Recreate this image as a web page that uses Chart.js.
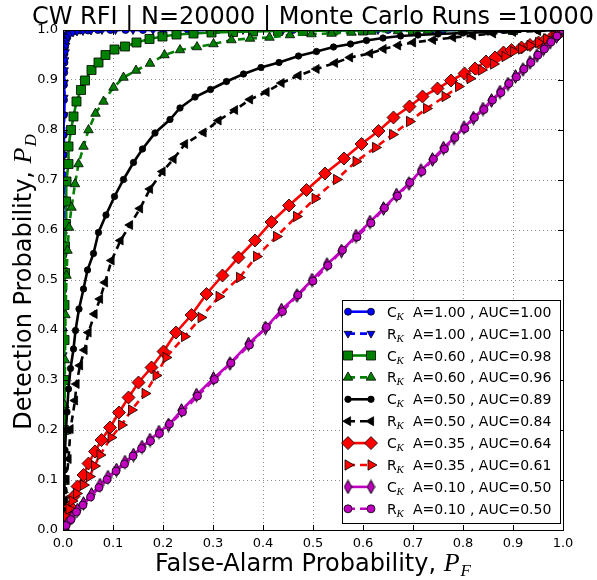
<!DOCTYPE html>
<html><head><meta charset="utf-8">
<script src="https://cdn.jsdelivr.net/npm/chart.js@4.4.0/dist/chart.umd.min.js"></script>
<style>html,body{margin:0;padding:0;background:#fff;}#wrap{width:597px;height:580px;position:relative;}</style>
</head><body><div id="wrap"><canvas id="c" width="597" height="580"></canvas></div>
<script>
// ---------- data ----------
const titleText = "CW RFI | N=20000 | Monte Carlo Runs =10000";
const xLabelText = "False-Alarm Probability, ";
const yLabelText = "Detection Probability, ";
const tickLabels = ["0.0","0.1","0.2","0.3","0.4","0.5","0.6","0.7","0.8","0.9","1.0"];
const seriesKind = ["C","R","C","R","C","R","C","R","C","R"];
const seriesA    = ["1.00","1.00","0.60","0.60","0.50","0.50","0.35","0.35","0.10","0.10"];
const seriesAUC  = ["1.00","1.00","0.98","0.96","0.89","0.84","0.64","0.61","0.50","0.50"];

const cA100 = [[0,0],[0,0.10],[0,0.20],[0,0.30],[0.0005,0.40],[0.0005,0.48],[0.001,0.55],[0.001,0.61],[0.001,0.66],[0.001,0.71],[0.0015,0.75],[0.0015,0.79],[0.002,0.83],[0.002,0.86],[0.002,0.89],[0.0025,0.915],[0.003,0.935],[0.003,0.952],[0.004,0.966],[0.005,0.977],[0.006,0.985],[0.008,0.991],[0.011,0.995],[0.016,0.997],[0.024,0.998],[0.035,0.999],[0.05,0.999],[0.07,1.0],[0.095,1.0],[0.125,1.0],[0.16,1.0],[0.2,1.0],[0.25,1.0],[0.31,1.0],[0.38,1.0],[0.46,1.0],[0.55,1.0],[0.65,1.0],[0.76,1.0],[0.88,1.0],[1,1]];
const rA100 = [[0,0],[0,0.12],[0,0.24],[0.0005,0.35],[0.0005,0.44],[0.001,0.52],[0.001,0.59],[0.001,0.65],[0.0015,0.70],[0.0015,0.75],[0.002,0.79],[0.002,0.83],[0.0025,0.865],[0.003,0.895],[0.003,0.92],[0.004,0.94],[0.005,0.956],[0.006,0.969],[0.008,0.979],[0.010,0.987],[0.014,0.992],[0.02,0.995],[0.028,0.997],[0.04,0.998],[0.056,0.999],[0.078,1.0],[0.105,1.0],[0.14,1.0],[0.18,1.0],[0.23,1.0],[0.29,1.0],[0.36,1.0],[0.44,1.0],[0.53,1.0],[0.63,1.0],[0.74,1.0],[0.86,1.0],[1,1]];
const cA060 = [[0,0],[0.001,0.10],[0.002,0.20],[0.002,0.30],[0.003,0.38],[0.003,0.45],[0.004,0.514],[0.004,0.567],[0.006,0.612],[0.006,0.657],[0.007,0.697],[0.011,0.732],[0.011,0.767],[0.016,0.800],[0.021,0.827],[0.027,0.857],[0.036,0.880],[0.044,0.899],[0.057,0.920],[0.071,0.935],[0.085,0.950],[0.103,0.961],[0.124,0.967],[0.147,0.975],[0.173,0.982],[0.199,0.987],[0.227,0.991],[0.261,0.993],[0.297,0.995],[0.34,0.996],[0.38,0.997],[0.43,0.998],[0.48,0.998],[0.54,0.999],[0.60,0.999],[0.70,1.0],[0.80,1.0],[0.90,1.0],[1,1]];
const rA060 = [[0,0],[0.001,0.08],[0.002,0.16],[0.003,0.25],[0.004,0.34],[0.005,0.43],[0.007,0.509],[0.009,0.559],[0.012,0.605],[0.017,0.645],[0.024,0.692],[0.031,0.732],[0.041,0.767],[0.051,0.800],[0.065,0.833],[0.081,0.857],[0.101,0.885],[0.121,0.905],[0.146,0.919],[0.174,0.933],[0.203,0.950],[0.234,0.960],[0.268,0.966],[0.301,0.972],[0.337,0.980],[0.374,0.983],[0.413,0.985],[0.454,0.990],[0.497,0.992],[0.537,0.993],[0.577,0.995],[0.617,0.997],[0.67,0.998],[0.73,0.999],[0.8,1.0],[0.9,1.0],[1,1]];
const cA050 = [[0,0],[0.001,0.04],[0.002,0.08],[0.003,0.12],[0.004,0.16],[0.006,0.20],[0.008,0.236],[0.011,0.282],[0.015,0.323],[0.021,0.362],[0.025,0.399],[0.032,0.442],[0.041,0.482],[0.049,0.520],[0.061,0.553],[0.071,0.595],[0.086,0.630],[0.103,0.667],[0.121,0.701],[0.141,0.735],[0.159,0.762],[0.184,0.794],[0.214,0.821],[0.234,0.844],[0.264,0.866],[0.295,0.881],[0.327,0.897],[0.361,0.912],[0.396,0.925],[0.432,0.935],[0.471,0.948],[0.507,0.957],[0.541,0.966],[0.575,0.972],[0.607,0.979],[0.640,0.984],[0.675,0.988],[0.71,0.990],[0.75,0.992],[0.80,0.994],[0.85,0.996],[0.90,0.998],[0.95,0.999],[1,1]];
const rA050 = [[0,0],[0.002,0.03],[0.004,0.06],[0.007,0.10],[0.011,0.142],[0.015,0.202],[0.024,0.259],[0.027,0.292],[0.034,0.329],[0.043,0.360],[0.051,0.395],[0.063,0.432],[0.074,0.462],[0.084,0.495],[0.097,0.539],[0.115,0.579],[0.134,0.610],[0.154,0.643],[0.174,0.682],[0.199,0.717],[0.221,0.742],[0.244,0.772],[0.281,0.795],[0.311,0.819],[0.344,0.840],[0.374,0.861],[0.407,0.876],[0.437,0.894],[0.471,0.909],[0.507,0.922],[0.544,0.934],[0.574,0.945],[0.614,0.953],[0.641,0.962],[0.67,0.969],[0.70,0.975],[0.74,0.980],[0.78,0.985],[0.82,0.989],[0.86,0.993],[0.90,0.996],[0.95,0.998],[1,1]];
const cA035 = [[0,0],[0.004,0.015],[0.009,0.030],[0.014,0.047],[0.021,0.067],[0.029,0.087],[0.041,0.110],[0.051,0.133],[0.064,0.157],[0.077,0.180],[0.094,0.205],[0.112,0.235],[0.131,0.265],[0.151,0.295],[0.177,0.325],[0.201,0.357],[0.226,0.395],[0.257,0.430],[0.287,0.472],[0.319,0.509],[0.351,0.545],[0.384,0.579],[0.417,0.616],[0.452,0.649],[0.487,0.680],[0.524,0.713],[0.562,0.743],[0.597,0.772],[0.631,0.798],[0.661,0.825],[0.693,0.847],[0.719,0.867],[0.749,0.883],[0.776,0.899],[0.803,0.913],[0.824,0.923],[0.846,0.937],[0.864,0.945],[0.881,0.955],[0.897,0.960],[0.917,0.965],[0.934,0.970],[0.951,0.975],[0.964,0.980],[0.977,0.985],[0.990,0.991],[1,1]];
const rA035 = [[0,0],[0.003,0.012],[0.007,0.027],[0.012,0.042],[0.018,0.058],[0.027,0.073],[0.041,0.090],[0.053,0.107],[0.063,0.128],[0.074,0.150],[0.096,0.185],[0.117,0.210],[0.137,0.240],[0.164,0.273],[0.186,0.309],[0.206,0.345],[0.243,0.387],[0.276,0.425],[0.312,0.467],[0.353,0.505],[0.387,0.547],[0.427,0.587],[0.467,0.627],[0.504,0.663],[0.547,0.701],[0.586,0.737],[0.625,0.765],[0.659,0.791],[0.693,0.817],[0.727,0.843],[0.764,0.867],[0.791,0.887],[0.814,0.903],[0.837,0.920],[0.861,0.932],[0.884,0.947],[0.901,0.957],[0.917,0.962],[0.934,0.969],[0.951,0.975],[0.967,0.982],[0.984,0.988],[1,1]];
const cA010 = [[0,0],[0.008,0.012],[0.018,0.025],[0.029,0.040],[0.041,0.053],[0.057,0.071],[0.074,0.090],[0.090,0.106],[0.107,0.120],[0.124,0.136],[0.141,0.150],[0.158,0.166],[0.174,0.180],[0.192,0.196],[0.211,0.210],[0.237,0.239],[0.267,0.270],[0.301,0.303],[0.334,0.333],[0.371,0.372],[0.405,0.404],[0.437,0.440],[0.468,0.469],[0.498,0.500],[0.528,0.531],[0.557,0.558],[0.586,0.588],[0.614,0.616],[0.641,0.643],[0.667,0.670],[0.692,0.693],[0.716,0.719],[0.739,0.741],[0.761,0.764],[0.782,0.784],[0.802,0.805],[0.821,0.824],[0.840,0.842],[0.857,0.859],[0.874,0.876],[0.890,0.892],[0.905,0.907],[0.920,0.921],[0.934,0.935],[0.948,0.949],[0.961,0.962],[0.974,0.975],[0.987,0.987],[1,1]];
const rA010 = [[0,0],[0.006,0.009],[0.016,0.021],[0.027,0.036],[0.040,0.050],[0.055,0.066],[0.072,0.085],[0.088,0.101],[0.106,0.118],[0.123,0.132],[0.140,0.148],[0.157,0.163],[0.175,0.178],[0.193,0.193],[0.213,0.212],[0.239,0.236],[0.269,0.268],[0.303,0.301],[0.336,0.334],[0.373,0.370],[0.407,0.406],[0.439,0.437],[0.470,0.470],[0.500,0.498],[0.530,0.529],[0.559,0.560],[0.588,0.586],[0.616,0.614],[0.643,0.644],[0.669,0.668],[0.694,0.695],[0.718,0.717],[0.741,0.742],[0.763,0.762],[0.784,0.785],[0.804,0.803],[0.823,0.825],[0.842,0.841],[0.859,0.860],[0.876,0.875],[0.892,0.893],[0.907,0.906],[0.922,0.922],[0.936,0.935],[0.950,0.950],[0.963,0.962],[0.976,0.976],[0.988,0.988],[1,1]];

const seriesPoints = [cA100, rA100, cA060, rA060, cA050, rA050, cA035, rA035, cA010, rA010];

// ---------- styles ----------
const FONT = "'DejaVu Sans', 'Liberation Sans', sans-serif";
const MATH = "'Liberation Serif', 'DejaVu Serif', serif";
function thinDiamond(color){
  const cv = document.createElement('canvas'); cv.width = 9; cv.height = 15;
  const g = cv.getContext('2d');
  g.beginPath(); g.moveTo(4.5,0.7); g.lineTo(8.2,7.5); g.lineTo(4.5,14.3); g.lineTo(0.8,7.5); g.closePath();
  g.fillStyle = color; g.fill(); g.strokeStyle = '#000'; g.lineWidth = 1; g.stroke();
  return cv;
}
const MAG = '#bf00bf';
const styles = [
  {color:'#0000ff', dash:[],    ps:'circle',   rot:0,   r:3.5},
  {color:'#0000ff', dash:[7,5], ps:'triangle', rot:180, r:4.5},
  {color:'#008000', dash:[],    ps:'rect',     rot:0,   r:6.4},
  {color:'#008000', dash:[7,5], ps:'triangle', rot:0,   r:5.5},
  {color:'#000000', dash:[],    ps:'circle',   rot:0,   r:3.2},
  {color:'#000000', dash:[7,5], ps:'triangle', rot:-90, r:5.2},
  {color:'#ff0000', dash:[],    ps:'rectRot',  rot:0,   r:6.5},
  {color:'#ff0000', dash:[7,5], ps:'triangle', rot:90,  r:6},
  {color:MAG,       dash:[],    ps:thinDiamond(MAG), rot:0, r:7},
  {color:MAG,       dash:[7,5], ps:'circle',   rot:0,   r:4}
];

const datasets = seriesPoints.map((pts, i) => ({
  data: pts.map(p => ({x:p[0], y:p[1]})),
  showLine: true,
  borderColor: styles[i].color,
  borderWidth: 2.6,
  borderDash: styles[i].dash,
  pointStyle: styles[i].ps,
  pointRotation: styles[i].rot,
  pointRadius: styles[i].r,
  pointBackgroundColor: styles[i].color,
  pointBorderColor: '#000',
  pointBorderWidth: 0.8,
  tension: 0,
  clip: 0,
  order: 20 - i
}));

function drawMarker(ctx, st, x, y){
  ctx.save();
  ctx.fillStyle = st.color; ctx.strokeStyle = '#000'; ctx.lineWidth = 0.8; ctx.setLineDash([]);
  const r = st.r; let rad = st.rot * Math.PI / 180;
  if (typeof st.ps !== 'string') { ctx.drawImage(st.ps, x - st.ps.width/2, y - st.ps.height/2); ctx.restore(); return; }
  ctx.beginPath();
  if (st.ps === 'circle') ctx.arc(x, y, r, 0, Math.PI*2);
  else if (st.ps === 'rect') { const s = Math.SQRT1_2 * r; ctx.rect(x-s, y-s, 2*s, 2*s); }
  else if (st.ps === 'rectRot') { ctx.moveTo(x, y-r); ctx.lineTo(x+r, y); ctx.lineTo(x, y+r); ctx.lineTo(x-r, y); ctx.closePath(); }
  else if (st.ps === 'triangle') {
    for (let k=0;k<3;k++){ const px = x + Math.sin(rad)*r, py = y - Math.cos(rad)*r; if(k===0) ctx.moveTo(px,py); else ctx.lineTo(px,py); rad += 2*Math.PI/3; }
    ctx.closePath();
  }
  ctx.fill(); ctx.stroke(); ctx.restore();
}

function mathLabel(ctx, plain, sym, sub, size){
  ctx.font = size + "px " + FONT; const w1 = ctx.measureText(plain).width;
  ctx.font = "italic " + (size+2) + "px " + MATH; const w2 = ctx.measureText(sym).width;
  ctx.font = "italic " + Math.round(size*0.72) + "px " + MATH; const w3 = ctx.measureText(sub).width;
  return {w1, w2, w3, total: w1 + w2 + w3 + 1};
}
function drawMathLabel(ctx, plain, sym, sub, size, cx, baseline){
  const m = mathLabel(ctx, plain, sym, sub, size);
  let x = cx - m.total/2;
  ctx.fillStyle = '#000'; ctx.textAlign = 'left'; ctx.textBaseline = 'alphabetic';
  ctx.font = size + "px " + FONT; ctx.fillText(plain, x, baseline); x += m.w1;
  ctx.font = "italic " + (size+2) + "px " + MATH; ctx.fillText(sym, x, baseline); x += m.w2 + 1;
  ctx.font = "italic " + Math.round(size*0.72) + "px " + MATH; ctx.fillText(sub, x, baseline + 5);
}

const deco = {
  id: 'deco',
  beforeDraw(chart){
    const ctx = chart.ctx; ctx.save(); ctx.fillStyle = '#fff'; ctx.fillRect(0,0,chart.width,chart.height); ctx.restore();
  },
  afterDatasetsDraw(chart){
    const {ctx, chartArea:a, scales} = chart;
    ctx.save();
    ctx.strokeStyle = '#000'; ctx.lineWidth = 1; ctx.setLineDash([]);
    ctx.beginPath();
    scales.x.ticks.forEach(t => { const px = Math.round(scales.x.getPixelForValue(t.value)) + 0.5;
      ctx.moveTo(px, a.bottom); ctx.lineTo(px, a.bottom - 5); ctx.moveTo(px, a.top); ctx.lineTo(px, a.top + 5); });
    scales.y.ticks.forEach(t => { const py = Math.round(scales.y.getPixelForValue(t.value)) + 0.5;
      ctx.moveTo(a.left, py); ctx.lineTo(a.left + 5, py); ctx.moveTo(a.right, py); ctx.lineTo(a.right - 5, py); });
    ctx.stroke();
    ctx.strokeRect(Math.round(a.left)+0.5, Math.round(a.top)+0.5, Math.round(a.right-a.left), Math.round(a.bottom-a.top));
    ctx.restore();
  },
  afterDraw(chart){
    const {ctx, chartArea:a} = chart;
    ctx.save();
    ctx.fillStyle = '#000'; ctx.font = "24px " + FONT; ctx.textAlign = 'center'; ctx.textBaseline = 'alphabetic';
    ctx.fillText(titleText, (a.left + a.right)/2, 24);
    drawMathLabel(ctx, xLabelText, "P", "F", 24, (a.left + a.right)/2, 571);
    ctx.save(); ctx.translate(31, (a.top + a.bottom)/2 + 2); ctx.rotate(-Math.PI/2);
    drawMathLabel(ctx, yLabelText, "P", "D", 24, 0, 0);
    ctx.restore();
    const bx = 342, by = 300, bw = 218, bh = 223;
    ctx.fillStyle = '#fff'; ctx.fillRect(bx, by, bw, bh);
    ctx.strokeStyle = '#000'; ctx.lineWidth = 1; ctx.strokeRect(bx + 0.5, by + 0.5, bw, bh);
    for (let i = 0; i < styles.length; i++){
      const st = styles[i]; const cy = 311.7 + i * 21.9;
      ctx.save(); ctx.strokeStyle = st.color; ctx.lineWidth = 2.6; ctx.setLineDash(st.dash);
      ctx.beginPath(); ctx.moveTo(348, cy); ctx.lineTo(371, cy); ctx.stroke(); ctx.restore();
      drawMarker(ctx, st, 348, cy); drawMarker(ctx, st, 371, cy);
      ctx.fillStyle = '#000'; ctx.textAlign = 'left'; ctx.textBaseline = 'alphabetic';
      ctx.font = "14px " + FONT; ctx.fillText(seriesKind[i], 387, cy + 5);
      ctx.font = "italic 11px " + MATH; ctx.fillText("K", 396.5, cy + 8);
      ctx.font = "14px " + FONT; ctx.fillText("A=" + seriesA[i] + " , AUC=" + seriesAUC[i], 413, cy + 5);
    }
    ctx.restore();
  }
};

const tickFont = {family: FONT, size: 13};
new Chart(document.getElementById('c'), {
  type: 'scatter',
  data: { datasets },
  options: {
    responsive: false, animation: false, devicePixelRatio: 1,
    layout: { padding: {left: 0, right: 34, top: 30, bottom: 0} },
    plugins: { legend: {display: false}, tooltip: {enabled: false}, title: {display: false} },
    scales: {
      x: { type: 'linear', min: 0, max: 1,
        ticks: { stepSize: 0.1, padding: 6, color: '#000', font: tickFont, maxRotation: 0, autoSkip: false,
          callback: v => tickLabels[Math.round(v * 10)] },
        grid: { color: 'rgba(0,0,0,0.45)', lineWidth: 1, drawTicks: false },
        border: { display: false, dash: [1, 3] },
        afterFit(s){ s.height = 50; } },
      y: { type: 'linear', min: 0, max: 1,
        ticks: { stepSize: 0.1, padding: 5, color: '#000', font: tickFont, autoSkip: false,
          callback: v => tickLabels[Math.round(v * 10)] },
        grid: { color: 'rgba(0,0,0,0.45)', lineWidth: 1, drawTicks: false },
        border: { display: false, dash: [1, 3] },
        afterFit(s){ s.width = 63; } }
    }
  },
  plugins: [deco]
});
</script></body></html>
